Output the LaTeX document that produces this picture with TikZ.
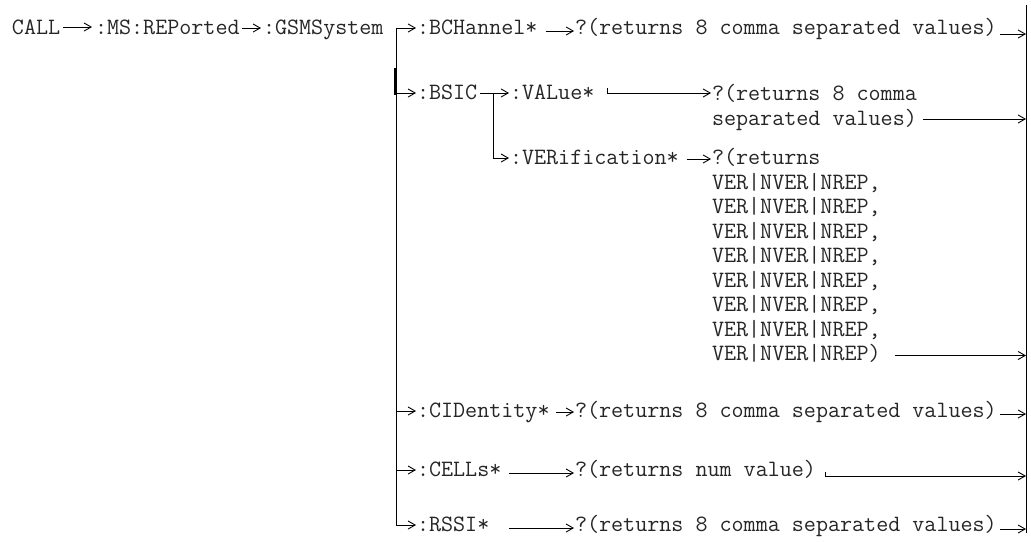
\documentclass[tikz,border=0pt]{standalone}
\usepackage{fontspec}
\usetikzlibrary{arrows.meta}
\begin{document}
\begin{tikzpicture}[x=1pt,y=-1pt,
  lbl/.style={anchor=base west, inner sep=0pt, outer sep=0pt, text=black!85,
    font=\ttfamily\fontsize{23.4}{24}\selectfont},
  conn/.style={line width=0.9pt},
  arr/.style={conn, -{Straight Barb[length=7pt,width=8pt]}}]
\useasboundingbox (0,0) rectangle (1031,541);
% ---------- text nodes ----------
\node[lbl] (call) at (12,34) {CALL};
\node[lbl] (ms) at (95,34) {:MS:REPorted};
\node[lbl] (gsm) at (263,34) {:GSMSystem};
\node[lbl] (bch) at (417,34) {:BCHannel*};
\node[lbl] (bchr) at (575,34) {?(returns 8 comma separated values)};
\node[lbl] (bsic) at (417,99) {:BSIC};
\node[lbl] (val) at (510,99) {:VALue*};
\node[lbl] (valr) at (712,100) {?(returns 8 comma};
\node[lbl] (valr2) at (712,125) {separated values)};
\node[lbl] (ver) at (510,164) {:VERification*};
\node[lbl] (verr) at (712,164) {?(returns};
\node[lbl] (verl1) at (712,189) {VER|NVER|NREP,};
\node[lbl] (verl2) at (712,213.5) {VER|NVER|NREP,};
\node[lbl] (verl3) at (712,238) {VER|NVER|NREP,};
\node[lbl] (verl4) at (712,262.5) {VER|NVER|NREP,};
\node[lbl] (verl5) at (712,287) {VER|NVER|NREP,};
\node[lbl] (verl6) at (712,311.5) {VER|NVER|NREP,};
\node[lbl] (verl7) at (712,336) {VER|NVER|NREP,};
\node[lbl] (verl8) at (712,360.5) {VER|NVER|NREP)};
\node[lbl] (cid) at (417,417) {:CIDentity*};
\node[lbl] (cidr) at (575,417) {?(returns 8 comma separated values)};
\node[lbl] (cells) at (417,476) {:CELLs*};
\node[lbl] (cellsr) at (575,476) {?(returns num value)};
\node[lbl] (rssi) at (417,531) {:RSSI*};
\node[lbl] (rssir) at (575,531) {?(returns 8 comma separated values)};
% ---------- helper coordinates ----------
\coordinate (busT) at (396,28);
\coordinate (rbT) at (1026,5);
\coordinate (rbB) at (1026,533);
\coordinate (sbx) at (493,0);
\coordinate (bchIn) at ([xshift=-1pt,yshift=6pt]bch.base west);
\coordinate (bsicIn) at ([xshift=-1pt,yshift=6pt]bsic.base west);
\coordinate (valIn) at ([xshift=-1pt,yshift=6pt]val.base west);
\coordinate (verIn) at ([xshift=-1pt,yshift=6pt]ver.base west);
\coordinate (cidIn) at ([xshift=-1pt,yshift=6pt]cid.base west);
\coordinate (cellsIn) at ([xshift=-1pt,yshift=6pt]cells.base west);
\coordinate (rssiIn) at ([xshift=-1pt,yshift=6pt]rssi.base west);
\coordinate (busB) at (busT |- rssiIn);
\coordinate (bchrIn) at ([xshift=-1pt,yshift=3pt]bchr.base west);
\coordinate (valrIn) at ([xshift=-1pt,yshift=7pt]valr.base west);
\coordinate (verrIn) at ([xshift=-1pt,yshift=5pt]verr.base west);
\coordinate (cidrIn) at ([xshift=-1pt,yshift=5pt]cidr.base west);
\coordinate (cellsrIn) at ([xshift=-1pt,yshift=3pt]cellsr.base west);
\coordinate (rssirIn) at ([xshift=-1pt,yshift=3pt]rssir.base west);
\coordinate (bchrOut) at ([xshift=3pt,yshift=0pt]bchr.base east);
\coordinate (valrOut) at ([xshift=6pt,yshift=6pt]valr2.base east);
\coordinate (verOut) at ([xshift=14pt,yshift=5pt]verl8.base east);
\coordinate (cidrOut) at ([xshift=3pt,yshift=3pt]cidr.base east);
\coordinate (cellsrOut) at ([xshift=9pt,yshift=0pt]cellsr.base east);
\coordinate (rssirOut) at ([xshift=3pt,yshift=2pt]rssir.base east);
% ---------- buses ----------
\draw[conn] (busT) -- (busB);
\draw[line width=1.6pt] (395,68) -- (395,95);
\draw[conn] (rbT) -- (rbB);
% ---------- row 1 ----------
\draw[arr] ([xshift=3pt,yshift=7pt]call.base east) -- ([xshift=-3pt,yshift=7pt]ms.base west);
\draw[arr] ([xshift=2pt,yshift=6pt]ms.base east) -- ([xshift=-2pt,yshift=6pt]gsm.base west);
\draw[arr] (busT |- bchIn) -- (bchIn);
\draw[arr] ([xshift=8pt]bch.base east |- bchrIn) -- (bchrIn);
\draw[arr] (bchrOut) -- (rbT |- bchrOut);
% ---------- BSIC ----------
\draw[arr] (busT |- bsicIn) -- (bsicIn);
\draw[conn] ([xshift=3pt]bsic.base east |- valIn) -- (sbx |- valIn) -- (sbx |- verIn);
\draw[arr] (sbx |- valIn) -- (valIn);
\draw[arr] (sbx |- verIn) -- (verIn);
\draw[arr] ([xshift=13pt,yshift=11pt]val.base east) -- ([xshift=13pt]val.base east |- valrIn) -- (valrIn);
\draw[arr] (valrOut) -- (rbT |- valrOut);
\draw[arr] ([xshift=8pt]ver.base east |- verrIn) -- (verrIn);
\draw[arr] (verOut) -- (rbT |- verOut);
% ---------- CIDentity, CELLs, RSSI ----------
\draw[arr] (busT |- cidIn) -- (cidIn);
\draw[arr] ([xshift=6pt]cid.base east |- cidrIn) -- (cidrIn);
\draw[arr] (cidrOut) -- (rbT |- cidrOut);
\draw[arr] (busT |- cellsIn) -- (cellsIn);
\draw[arr] ([xshift=8pt]cells.base east |- cellsrIn) -- (cellsrIn);
\draw[arr] ([yshift=4pt]cellsrOut) -- (cellsrOut) -- (rbT |- cellsrOut);
\draw[arr] (busB) -- (rssiIn);
\draw[arr] ([xshift=20pt]rssi.base east |- rssirIn) -- (rssirIn);
\draw[arr] (rssirOut) -- (rbT |- rssirOut);
\end{tikzpicture}
\end{document}
